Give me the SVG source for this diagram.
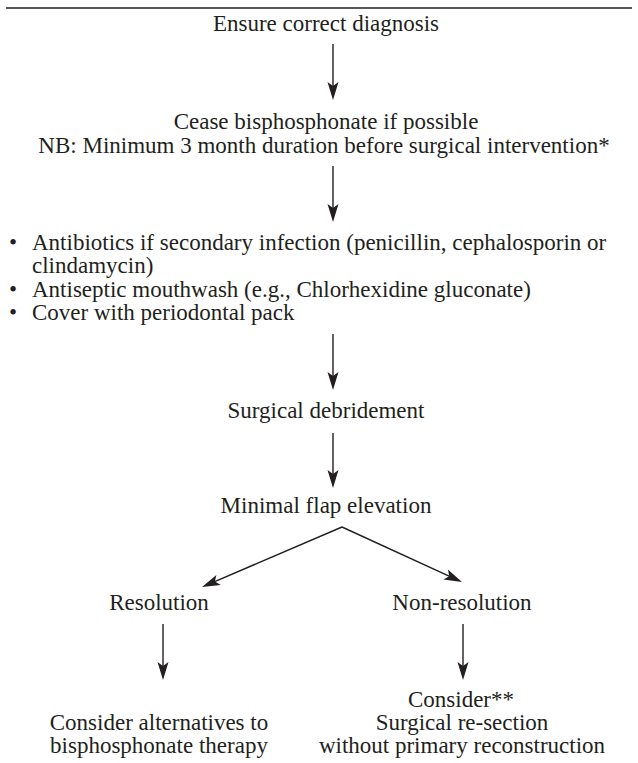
<svg xmlns="http://www.w3.org/2000/svg" width="638" height="763" viewBox="0 0 638 763">
<style>
text{font-family:"Liberation Serif","Times New Roman",serif;font-size:23px;fill:#231f20}
.c{text-anchor:middle}
.ln{stroke:#231f20;stroke-width:1.4;fill:none}
</style>
<defs>
<marker id="ah" markerUnits="userSpaceOnUse" viewBox="-9 -6 20 12" refX="0" refY="0" markerWidth="20" markerHeight="12" orient="auto" overflow="visible">
<path d="M10,0 L-8,-5.5 L-4,0 L-8,5.5 Z" fill="#231f20"/>
</marker>
</defs>
<rect width="638" height="763" fill="#fff"/>
<line x1="6" y1="8" x2="632" y2="8" stroke="#231f20" stroke-width="1.4"/>
<g id="n1"><text class="c" x="326" y="31">Ensure correct diagnosis</text></g>
<g id="n2"><text class="c" x="326" y="129">Cease bisphosphonate if possible</text><text class="c" x="324" y="153">NB: Minimum 3 month duration before surgical intervention*</text></g>
<g id="n3">
<text x="9" y="250">•</text><text x="32" y="250">Antibiotics if secondary infection (penicillin, cephalosporin or</text>
<text x="32" y="273">clindamycin)</text>
<text x="9" y="297">•</text><text x="32" y="297">Antiseptic mouthwash (e.g., Chlorhexidine gluconate)</text>
<text x="9" y="320">•</text><text x="32" y="320">Cover with periodontal pack</text>
</g>
<g id="n4"><text class="c" x="326" y="418">Surgical debridement</text></g>
<g id="n5"><text class="c" x="326" y="513">Minimal flap elevation</text></g>
<g id="n6"><text class="c" x="159" y="610">Resolution</text></g>
<g id="n7"><text class="c" x="462" y="610">Non-resolution</text></g>
<g id="n8"><text class="c" x="159" y="730">Consider alternatives to</text><text class="c" x="159" y="753">bisphosphonate therapy</text></g>
<g id="n9"><text class="c" x="461" y="707">Consider**</text><text class="c" x="462" y="730">Surgical re-section</text><text class="c" x="462" y="753">without primary reconstruction</text></g>
<g id="connectors">
<line class="ln" x1="333" y1="44" x2="333" y2="90" marker-end="url(#ah)"/>
<line class="ln" x1="333" y1="166" x2="333" y2="212" marker-end="url(#ah)"/>
<line class="ln" x1="333" y1="334" x2="333" y2="380" marker-end="url(#ah)"/>
<line class="ln" x1="333" y1="433" x2="333" y2="478" marker-end="url(#ah)"/>
<line class="ln" x1="342" y1="527" x2="211.2" y2="583.1" marker-end="url(#ah)"/>
<line class="ln" x1="342" y1="527" x2="452.9" y2="577.8" marker-end="url(#ah)"/>
<line class="ln" x1="163" y1="624" x2="163" y2="670" marker-end="url(#ah)"/>
<line class="ln" x1="463" y1="624" x2="463" y2="670" marker-end="url(#ah)"/>
</g>
</svg>
